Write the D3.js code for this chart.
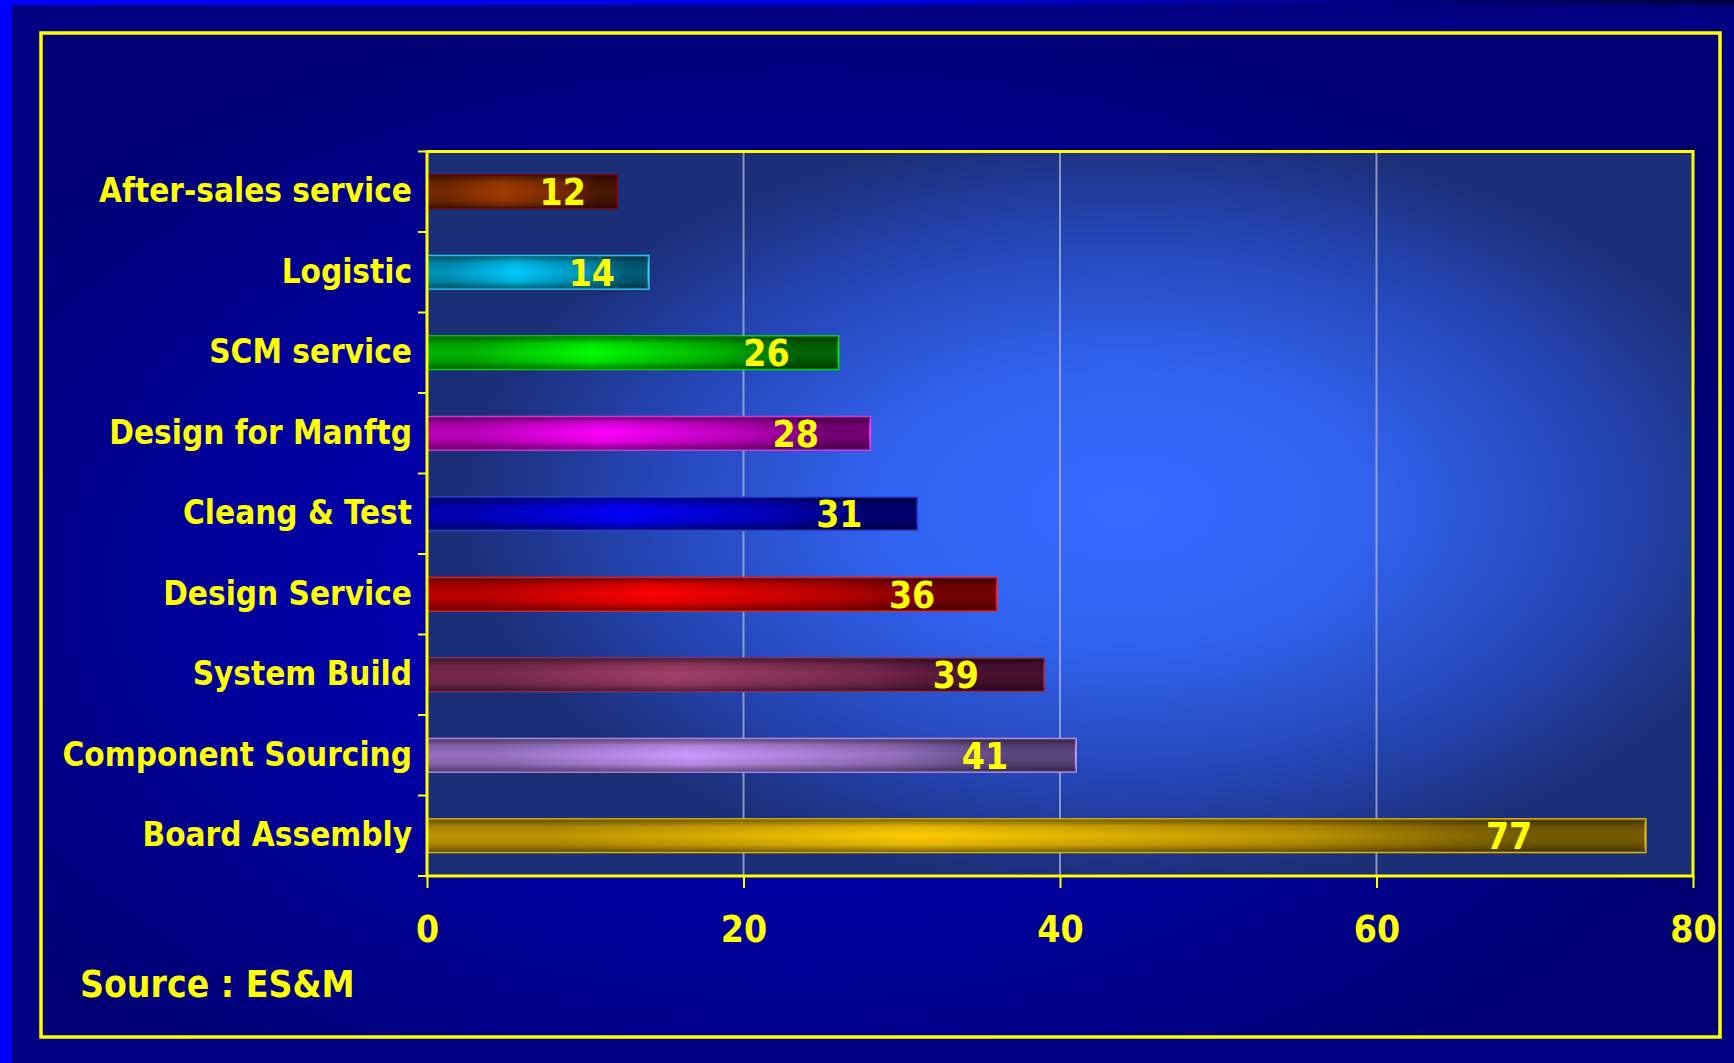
<!DOCTYPE html>
<html>
<head>
<meta charset="utf-8">
<script src="https://cdn.jsdelivr.net/npm/d3@7"></script>
<style>
  html, body { margin: 0; padding: 0; background: #000080; }
  svg { display: block; }
</style>
</head>
<body>
<div id="chart"></div>
<script>
const categories = [
  "After-sales service",
  "Logistic",
  "SCM service",
  "Design for Manftg",
  "Cleang & Test",
  "Design Service",
  "System Build",
  "Component Sourcing",
  "Board Assembly",
];
const values = [12, 14, 26, 28, 31, 36, 39, 41, 77];
const xTicks = [0, 20, 40, 60, 80];
const sourceText = "Source : ES&M";

// bar colours: bright middle, dark ends, outline
const barBright = ["#a43c00", "#00ccff", "#00ff00", "#ff00ff", "#0000ff", "#ff0000", "#a4406c", "#cc99ff", "#ffcc00"];
const barDark = ["#4a1600", "#005c78", "#006400", "#760076", "#000070", "#760000", "#481030", "#5c4680", "#785c00"];
const barStroke = ["#8b0000", "#33ddff", "#00ee00", "#ff33ff", "#2a48ff", "#ff2020", "#a03060", "#cc99ff", "#ffcc00"];

const W = 1734;
const H = 1063;
const yellow = "#ffff00";
const font = "'DejaVu Sans Condensed', 'DejaVu Sans', Verdana, sans-serif";

const styleText = (sel, size) =>
  sel
    .attr("fill", yellow)
    .style("font-family", font)
    .style("font-stretch", "condensed")
    .style("font-weight", "bold")
    .style("font-size", size);

const drawChart = (svg) => {
  const margin = { top: 151.5, right: W - 1693, bottom: H - 876, left: 427 };
  const defs = svg.append("defs");

  const outerGrad = defs.append("radialGradient").attr("id", "outerGrad")
    .attr("cx", "45%").attr("cy", "55%").attr("r", "60%");
  outerGrad.append("stop").attr("offset", 0).attr("stop-color", "#0000d2");
  outerGrad.append("stop").attr("offset", 1).attr("stop-color", "#000072");

  const plotGrad = defs.append("radialGradient").attr("id", "plotGrad")
    .attr("cx", "55%").attr("cy", "49%").attr("r", "52%");
  plotGrad.append("stop").attr("offset", 0).attr("stop-color", "#3669ff");
  plotGrad.append("stop").attr("offset", 0.35).attr("stop-color", "#3264f2");
  plotGrad.append("stop").attr("offset", 0.72).attr("stop-color", "#2446b6");
  plotGrad.append("stop").attr("offset", 1).attr("stop-color", "#1b2e78");

  const topGrad = defs.append("linearGradient").attr("id", "topGrad");
  topGrad.append("stop").attr("offset", 0).attr("stop-color", "#0000ff");
  topGrad.append("stop").attr("offset", 0.5).attr("stop-color", "#0000e0");
  topGrad.append("stop").attr("offset", 1).attr("stop-color", "#000040");

  const shade = defs.append("linearGradient").attr("id", "shade")
    .attr("x1", 0).attr("y1", 0).attr("x2", 0).attr("y2", 1);
  [[0, 0.5], [0.22, 0.12], [0.5, 0], [0.78, 0.12], [1, 0.5]].forEach(([o, a]) =>
    shade.append("stop").attr("offset", o).attr("stop-color", "#000").attr("stop-opacity", a));

  categories.forEach((c, i) => {
    const g = defs.append("linearGradient").attr("id", "bar" + i);
    const mid = d3.interpolateRgb(barDark[i], barBright[i])(0.5);
    g.append("stop").attr("offset", 0).attr("stop-color", mid);
    g.append("stop").attr("offset", 0.1).attr("stop-color", mid);
    g.append("stop").attr("offset", 0.4).attr("stop-color", barBright[i]);
    g.append("stop").attr("offset", 0.72).attr("stop-color", mid);
    g.append("stop").attr("offset", 0.9).attr("stop-color", barDark[i]);
    g.append("stop").attr("offset", 1).attr("stop-color", barDark[i]);
  });

  // page background
  svg.append("rect").attr("width", W).attr("height", H).attr("fill", "#000080");
  svg.append("rect").attr("width", W).attr("height", 5).attr("fill", "url(#topGrad)");
  svg.append("rect").attr("width", 12).attr("height", H).attr("fill", "#0000ff");
  svg.append("rect")
    .attr("x", 41).attr("y", 33).attr("width", 1679).attr("height", 1004)
    .attr("fill", "url(#outerGrad)")
    .attr("stroke", yellow).attr("stroke-width", 3.5);

  const x = d3.scaleLinear()
    .domain([0, 80])
    .range([margin.left, W - margin.right]);
  const y = d3.scaleBand()
    .domain(categories)
    .range([margin.top, H - margin.bottom])
    .paddingInner(0.59)
    .paddingOuter(0.295);

  // plot area
  svg.append("rect")
    .attr("x", x(0)).attr("y", margin.top)
    .attr("width", x(80) - x(0)).attr("height", H - margin.bottom - margin.top)
    .attr("fill", "url(#plotGrad)");

  // grid
  svg.append("g")
    .selectAll("line")
    .data(xTicks.filter((t) => t > 0 && t < 80))
    .join("line")
    .attr("x1", (d) => x(d)).attr("x2", (d) => x(d))
    .attr("y1", margin.top).attr("y2", H - margin.bottom)
    .attr("stroke", "#b8bcd8").attr("stroke-opacity", 0.7).attr("stroke-width", 2);

  // bars
  const bars = svg.append("g").selectAll("g").data(values).join("g");
  bars.append("rect")
    .attr("x", x(0))
    .attr("y", (d, i) => y(categories[i]))
    .attr("width", (d) => x(d) - x(0))
    .attr("height", y.bandwidth())
    .attr("fill", (d, i) => `url(#bar${i})`)
    .attr("stroke", (d, i) => barStroke[i])
    .attr("stroke-width", 2);
  bars.append("rect")
    .attr("x", x(0))
    .attr("y", (d, i) => y(categories[i]))
    .attr("width", (d) => x(d) - x(0))
    .attr("height", y.bandwidth())
    .attr("fill", "url(#shade)");
  bars.append("text")
    .attr("x", (d) => x(0) + (x(d) - x(0)) * 0.92 - 39)
    .attr("y", (d, i) => y(categories[i]) + y.bandwidth() / 2 + 13.5)
    .attr("text-anchor", "middle")
    .call(styleText, "37px")
    .text((d) => d);

  // plot frame
  svg.append("rect")
    .attr("x", x(0)).attr("y", margin.top)
    .attr("width", x(80) - x(0)).attr("height", H - margin.bottom - margin.top)
    .attr("fill", "none").attr("stroke", yellow).attr("stroke-width", 3);

  // y axis labels and boundary ticks
  const yAxis = (g) =>
    g
      .attr("transform", `translate(${x(0)},0)`)
      .call(d3.axisLeft(y).tickSize(0).tickPadding(15))
      .call((g) => g.select(".domain").remove())
      .call((g) => g.selectAll("text").call(styleText, "33px"));
  svg.append("g").call(yAxis);

  const step = y.step();
  svg.append("g")
    .selectAll("line")
    .data(d3.range(categories.length + 1))
    .join("line")
    .attr("x1", x(0) - 9).attr("x2", x(0))
    .attr("y1", (i) => margin.top + i * step)
    .attr("y2", (i) => margin.top + i * step)
    .attr("stroke", yellow).attr("stroke-width", 2);

  // x axis
  const xAxis = (g) =>
    g
      .attr("transform", `translate(0,${H - margin.bottom})`)
      .call(d3.axisBottom(x).tickValues(xTicks).tickSize(12).tickPadding(28))
      .call((g) => g.select(".domain").remove())
      .call((g) => g.selectAll("line").attr("stroke", yellow).attr("stroke-width", 2))
      .call((g) => g.selectAll("text").call(styleText, "37px"));
  svg.append("g").call(xAxis);

  svg.append("text")
    .attr("x", 80).attr("y", 997)
    .call(styleText, "37px")
    .text(sourceText);
};

const svg = d3.select("#chart")
  .append("svg")
  .attr("width", W)
  .attr("height", H);
drawChart(svg);
</script>
</body>
</html>
